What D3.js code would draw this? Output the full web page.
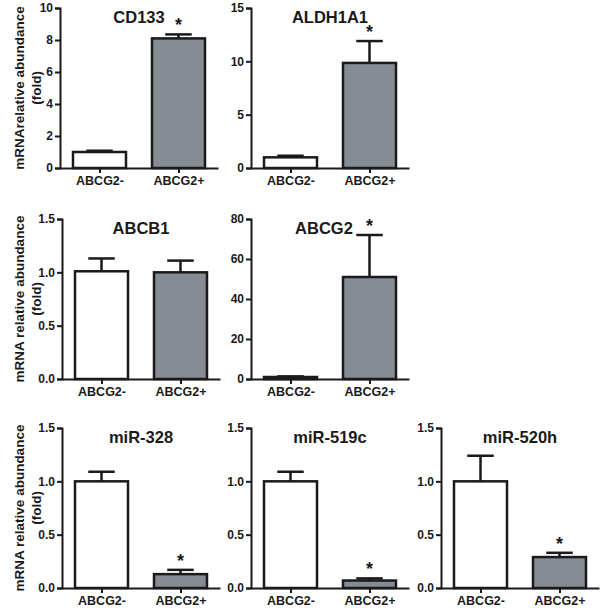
<!DOCTYPE html>
<html><head><meta charset="utf-8">
<script src="https://cdn.jsdelivr.net/npm/d3@7"></script>
<style>body{margin:0;background:#fff}svg{display:block}text{font-family:"Liberation Sans",Arial,sans-serif;font-weight:bold;fill:#1a1a1a}</style>
</head><body><svg id="c" width="603" height="610"></svg>
<script>
// ---- data ----
const genes = ["CD133","ALDH1A1","ABCB1","ABCG2","miR-328","miR-519c","miR-520h"];
const groups = ["ABCG2-","ABCG2+"];
const meansNeg = [1.0, 1.0, 1.01, 1.0, 1.0, 1.0, 1.0];
const meansPos = [8.1, 9.85, 1.0, 51, 0.13, 0.07, 0.29];
const errNeg = [0.08, 0.15, 0.12, 0.3, 0.09, 0.09, 0.24];
const errPos = [0.25, 2.05, 0.11, 21, 0.04, 0.02, 0.04];
const yMaxes = [10, 15, 1.5, 80, 1.5, 1.5, 1.5];
const yTickVals = [[0,2,4,6,8,10],[0,5,10,15],[0,0.5,1.0,1.5],[0,20,40,60,80],[0,0.5,1.0,1.5],[0,0.5,1.0,1.5],[0,0.5,1.0,1.5]];
const tickDecimals = [0,0,1,0,1,1,1];
const significant = [true,true,false,true,true,true,true];
const yTitles = [["mRNArelative abundance","(fold)"],["mRNA relative abundance","(fold)"],["mRNA relative abundance","(fold)"]];

// ---- layout ----
const axisX = [60, 251, 62, 251, 62, 251, 441];
const rowTop = [8, 219, 428];
const rowOf = [0,0,1,1,2,2,2];
const titleShift = [0, 0, 0, -6, 0, 0, 0];
const plotH = 160, plotW = 158, barW = 53;
const grey = "#868c94";

const svg = d3.select("#c");

genes.forEach((g, i) => {
  const x0 = axisX[i], y0 = rowTop[rowOf[i]];
  const gp = svg.append("g").attr("transform", `translate(${x0},${y0})`);
  const y = d3.scaleLinear().domain([0, yMaxes[i]]).range([plotH, 0]);
  const x = d3.scalePoint().domain(groups).range([0, plotW]).padding(0.5);
  const vals = [meansNeg[i], meansPos[i]];
  const errs = [errNeg[i], errPos[i]];

  // error bars (upper only)
  groups.forEach((gr, k) => {
    const cx = x(gr);
    gp.append("line").attr("x1", cx).attr("x2", cx)
      .attr("y1", y(vals[k])).attr("y2", y(vals[k] + errs[k]))
      .attr("stroke", "#1a1a1a").attr("stroke-width", 2.5);
    gp.append("line").attr("x1", cx - barW/4).attr("x2", cx + barW/4)
      .attr("y1", y(vals[k] + errs[k])).attr("y2", y(vals[k] + errs[k]))
      .attr("stroke", "#1a1a1a").attr("stroke-width", 2.5);
  });
  // bars
  gp.selectAll("rect.bar").data(groups).join("rect").attr("class","bar")
    .attr("x", d => x(d) - barW/2).attr("width", barW)
    .attr("y", (d,k) => y(vals[k])).attr("height", (d,k) => plotH - y(vals[k]))
    .attr("fill", (d,k) => k === 0 ? "#fff" : grey)
    .attr("stroke", "#1a1a1a").attr("stroke-width", 2.5);

  // axes
  const fmt = d3.format("." + tickDecimals[i] + "f");
  const ya = gp.append("g").call(d3.axisLeft(y).tickValues(yTickVals[i]).tickFormat(fmt).tickSize(5).tickPadding(2));
  ya.select(".domain").attr("stroke","#1a1a1a").attr("stroke-width",2);
  ya.selectAll(".tick line").attr("stroke","#1a1a1a").attr("stroke-width",2);
  ya.selectAll(".tick text").style("font-size","12px").style("font-weight","bold").attr("fill","#1a1a1a").attr("font-family",null);
  const xa = gp.append("g").attr("transform", `translate(0,${plotH})`)
    .call(d3.axisBottom(x).tickSize(5).tickSizeOuter(0).tickPadding(3));
  xa.select(".domain").attr("stroke","#1a1a1a").attr("stroke-width",2);
  xa.selectAll(".tick line").attr("stroke","#1a1a1a").attr("stroke-width",2);
  xa.selectAll(".tick text").style("font-size","12.5px").style("font-weight","bold").attr("fill","#1a1a1a").attr("font-family",null);

  // title
  gp.append("text").attr("x", plotW/2 + titleShift[i]).attr("y", 15).attr("text-anchor","middle")
    .style("font-size","16.5px").text(g);

  // asterisk
  if (significant[i]) {
    const top = vals[1] + errs[1];
    gp.append("text").attr("x", x(groups[1])).attr("y", y(top) - 3).attr("text-anchor","middle")
      .style("font-size","18px").text("*");
  }
});

// y titles
rowTop.forEach((t, r) => {
  const cy = t + plotH/2;
  const lines = yTitles[r];
  svg.append("text").attr("transform", `translate(24,${cy}) rotate(-90)`).attr("text-anchor","middle")
    .style("font-size","13.5px").text(lines[0]);
  svg.append("text").attr("transform", `translate(41,${cy}) rotate(-90)`).attr("text-anchor","middle")
    .style("font-size","13.5px").text(lines[1]);
});
</script></body></html>
